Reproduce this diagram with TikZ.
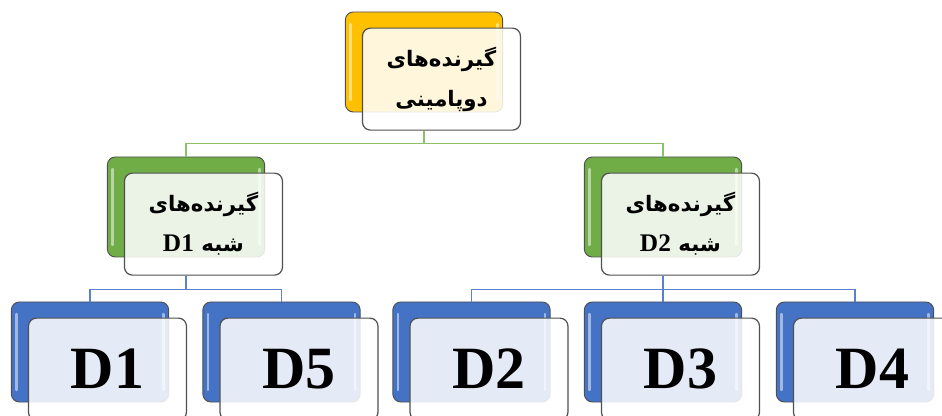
\documentclass[tikz,border=0pt]{standalone}
\usepackage{fontspec}
\setmainfont{Liberation Serif}
\newfontfamily\fafont[Script=Arabic]{DejaVu Sans}
\TeXXeTstate=1
\usetikzlibrary{positioning}

\definecolor{accgold}{HTML}{FFC000}
\definecolor{accgreen}{HTML}{70AD47}
\definecolor{accblue}{HTML}{4472C4}
\definecolor{linegreen}{HTML}{8CC168}
\definecolor{lineblue}{HTML}{5A82CC}
\definecolor{edgegray}{HTML}{505050}

\begin{document}
\begin{tikzpicture}[
    x=0.75pt, y=-0.75pt,
    back/.style={rectangle, draw=edgegray, line width=0.7pt, fill=#1, rounded corners=6pt,
        minimum width=118pt, minimum height=75pt, inner sep=0pt,
        path picture={
            \draw[white, opacity=0.5, line width=1.8pt, line cap=round]
                ([xshift=4pt, yshift=-9pt]path picture bounding box.north west) --
                ([xshift=4pt, yshift=9pt]path picture bounding box.south west)
                ([xshift=-4pt, yshift=-9pt]path picture bounding box.north east) --
                ([xshift=-4pt, yshift=9pt]path picture bounding box.south east);
        }},
    front/.style={rectangle, draw=edgegray, line width=0.9pt, fill=white, fill opacity=0.86,
        text opacity=1, rounded corners=6pt, minimum width=118.5pt, minimum height=76.5pt,
        inner sep=0pt, align=center, below right=12pt and 12.75pt of #1.north west},
    fatext/.style={font=\fafont\bfseries\fontsize{16}{30}\selectfont},
    dtext/.style={font=\bfseries\fontsize{45}{45}\selectfont},
    gline/.style={draw=linegreen, line width=1pt},
    bline/.style={draw=lineblue, line width=1pt}
]
    \useasboundingbox (0,0) rectangle (942,416);
    \clip (0,0) rectangle (942,416);

    % top
    \node[back=accgold] (tb) at (424,62) {};
    \node[front=tb, fatext] (tf) {\beginR گیرنده‌های\endR\\\beginR دوپامینی\endR};

    % middle row
    \node[back=accgreen] (lb) at (186,207) {};
    \node[front=lb, fatext] (lf) {\beginR گیرنده‌های\endR\\\beginR شبه {\rmfamily\fontsize{19}{30}\selectfont D1}\endR};
    \node[back=accgreen] (rb) at (663,207) {};
    \node[front=rb, fatext] (rf) {\beginR گیرنده‌های\endR\\\beginR شبه {\rmfamily\fontsize{19}{30}\selectfont D2}\endR};

    % bottom row
    \node[back=accblue] (d1b) at (90,352) {};
    \node[front=d1b, dtext] (d1f) {D1};
    \node[back=accblue] (d5b) at (281.5,352) {};
    \node[front=d5b, dtext] (d5f) {D5};
    \node[back=accblue] (d2b) at (471.5,352) {};
    \node[front=d2b, dtext] (d2f) {D2};
    \node[back=accblue] (d3b) at (663,352) {};
    \node[front=d3b, dtext] (d3f) {D3};
    \node[back=accblue] (d4b) at (855,352) {};
    \node[front=d4b, dtext] (d4f) {D4};

    \draw[gline] (tf.south -| tb) -- ++(0,13) -| (lb.north);
    \draw[gline] (tf.south -| tb) -- ++(0,13) -| (rb.north);

    \draw[bline] (lf.south -| lb) -- ++(0,14) -| (d1b.north);
    \draw[bline] (lf.south -| lb) -- ++(0,14) -| (d5b.north);
    \draw[bline] (rf.south -| rb) -- ++(0,14) -| (d2b.north);
    \draw[bline] (rf.south -| rb) -- ++(0,14) -| (d3b.north);
    \draw[bline] (rf.south -| rb) -- ++(0,14) -| (d4b.north);
\end{tikzpicture}
\end{document}
